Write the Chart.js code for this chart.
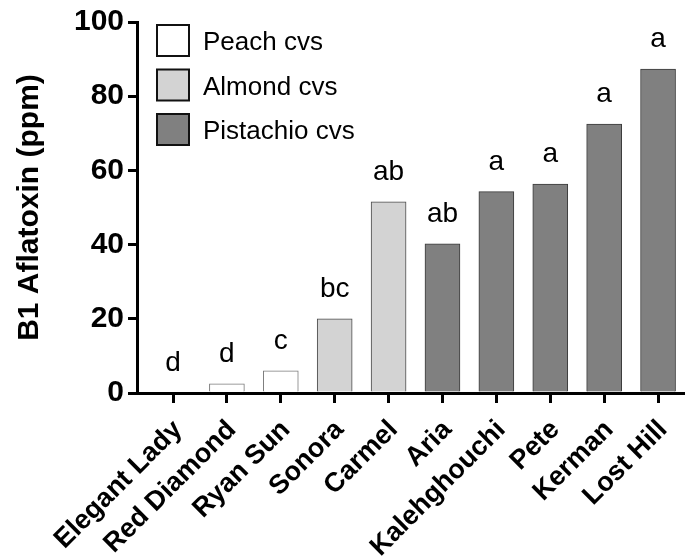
<!DOCTYPE html>
<html>
<head>
<meta charset="utf-8">
<script src="https://cdn.jsdelivr.net/npm/chart.js@4"></script>
<style>
  body { margin: 0; background: #fff; }
  #wrap { width: 685px; height: 559px; position: relative; }
</style>
</head>
<body>
<div id="wrap"><canvas id="chart"></canvas></div>
<script>
// cultivars, in plot order
var cultivars = ['Elegant Lady', 'Red Diamond', 'Ryan Sun', 'Sonora', 'Carmel',
                 'Aria', 'Kalehghouchi', 'Pete', 'Kerman', 'Lost Hill'];
// B1 aflatoxin (ppm)
var aflatoxin = [0, 2.5, 6, 20, 51.5, 40.2, 54.3, 56.3, 72.5, 87.3];
// crop group index of each cultivar (0 peach, 1 almond, 2 pistachio)
var cropGroup = [0, 0, 0, 1, 1, 2, 2, 2, 2, 2];
// significance letters above bars
var sigLetters = ['d', 'd', 'c', 'bc', 'ab', 'ab', 'a', 'a', 'a', 'a'];
var groupNames = ['Peach cvs', 'Almond cvs', 'Pistachio cvs'];
var yTicks = [0, 20, 40, 60, 80, 100];

var fills = ['#ffffff', '#d3d3d3', '#808080'];
var borders = ['#7a7a7a', '#4a4a4a', '#3a3a3a'];
var FONT = '"Liberation Sans", Arial, sans-serif';

var datasets = groupNames.map(function (name, g) {
    var pts = [];
    for (var i = 0; i < cultivars.length; i++) {
        if (cropGroup[i] === g) pts.push({ x: i, y: aflatoxin[i] });
    }
    return {
        label: name,
        data: pts,
        backgroundColor: fills[g],
        borderColor: borders[g],
        borderWidth: 1,
        barThickness: 35,
        grouped: false
    };
});

// letters over each bar
var letterPlugin = {
    id: 'letters',
    afterDatasetsDraw: function (chart) {
        var ctx = chart.ctx;
        ctx.save();
        ctx.font = '28px ' + FONT;
        ctx.fillStyle = '#000';
        ctx.textAlign = 'center';
        ctx.textBaseline = 'alphabetic';
        chart.data.datasets.forEach(function (ds, di) {
            var meta = chart.getDatasetMeta(di);
            meta.data.forEach(function (bar, k) {
                var idx = ds.data[k].x;
                ctx.fillText(sigLetters[idx], bar.x, bar.y - 22);
            });
        });
        ctx.restore();
    }
};

// legend boxes in upper left of plot
var legendPlugin = {
    id: 'boxLegend',
    afterDraw: function (chart) {
        var ctx = chart.ctx;
        ctx.save();
        ctx.font = '26px ' + FONT;
        ctx.textBaseline = 'middle';
        ctx.textAlign = 'left';
        chart.data.datasets.forEach(function (ds, i) {
            var x = 157, y = 25 + i * 44.5;
            ctx.fillStyle = ds.backgroundColor;
            ctx.fillRect(x, y, 32, 31);
            ctx.lineWidth = 2;
            ctx.strokeStyle = '#111';
            ctx.strokeRect(x, y, 32, 31);
            ctx.fillStyle = '#000';
            ctx.fillText(ds.label, 203, y + 18);
        });
        ctx.restore();
    }
};

new Chart(document.getElementById('chart'), {
    type: 'bar',
    data: { datasets: datasets },
    plugins: [letterPlugin, legendPlugin],
    options: {
        responsive: true,
        maintainAspectRatio: false,
        animation: false,
        layout: { padding: { top: 20, right: 0, left: 0, bottom: 0 } },
        plugins: { legend: { display: false }, tooltip: { enabled: false } },
        scales: {
            x: {
                type: 'linear',
                offset: false,
                min: -0.668,
                max: 9.5,
                afterFit: function (s) { s.height = 166; s.paddingRight = 0; },
                border: { display: true, color: '#000', width: 3 },
                grid: { offset: false, drawOnChartArea: false, color: '#000', lineWidth: 3, tickLength: 10 },
                ticks: {
                    stepSize: 1,
                    includeBounds: false,
                    autoSkip: false,
                    minRotation: 45,
                    maxRotation: 45,
                    color: '#000',
                    padding: 11,
                    labelOffset: 5,
                    font: { family: FONT, size: 27, weight: 'bold' },
                    callback: function (v) { return cultivars[v]; }
                }
            },
            y: {
                min: 0,
                max: 100,
                afterFit: function (s) { s.width = 137; },
                afterBuildTicks: function (s) { s.ticks = yTicks.map(function (v) { return { value: v }; }); },
                border: { display: true, color: '#000', width: 3 },
                grid: { drawOnChartArea: false, color: '#000', lineWidth: 3, tickLength: 9 },
                ticks: {
                    color: '#000',
                    padding: 4,
                    font: { family: FONT, size: 30, weight: 'bold' }
                },
                title: {
                    display: true,
                    text: 'B1 Aflatoxin (ppm)',
                    color: '#000',
                    padding: { top: 12, bottom: 0 },
                    font: { family: FONT, size: 30, weight: 'bold' }
                }
            }
        }
    }
});
</script>
</body>
</html>
